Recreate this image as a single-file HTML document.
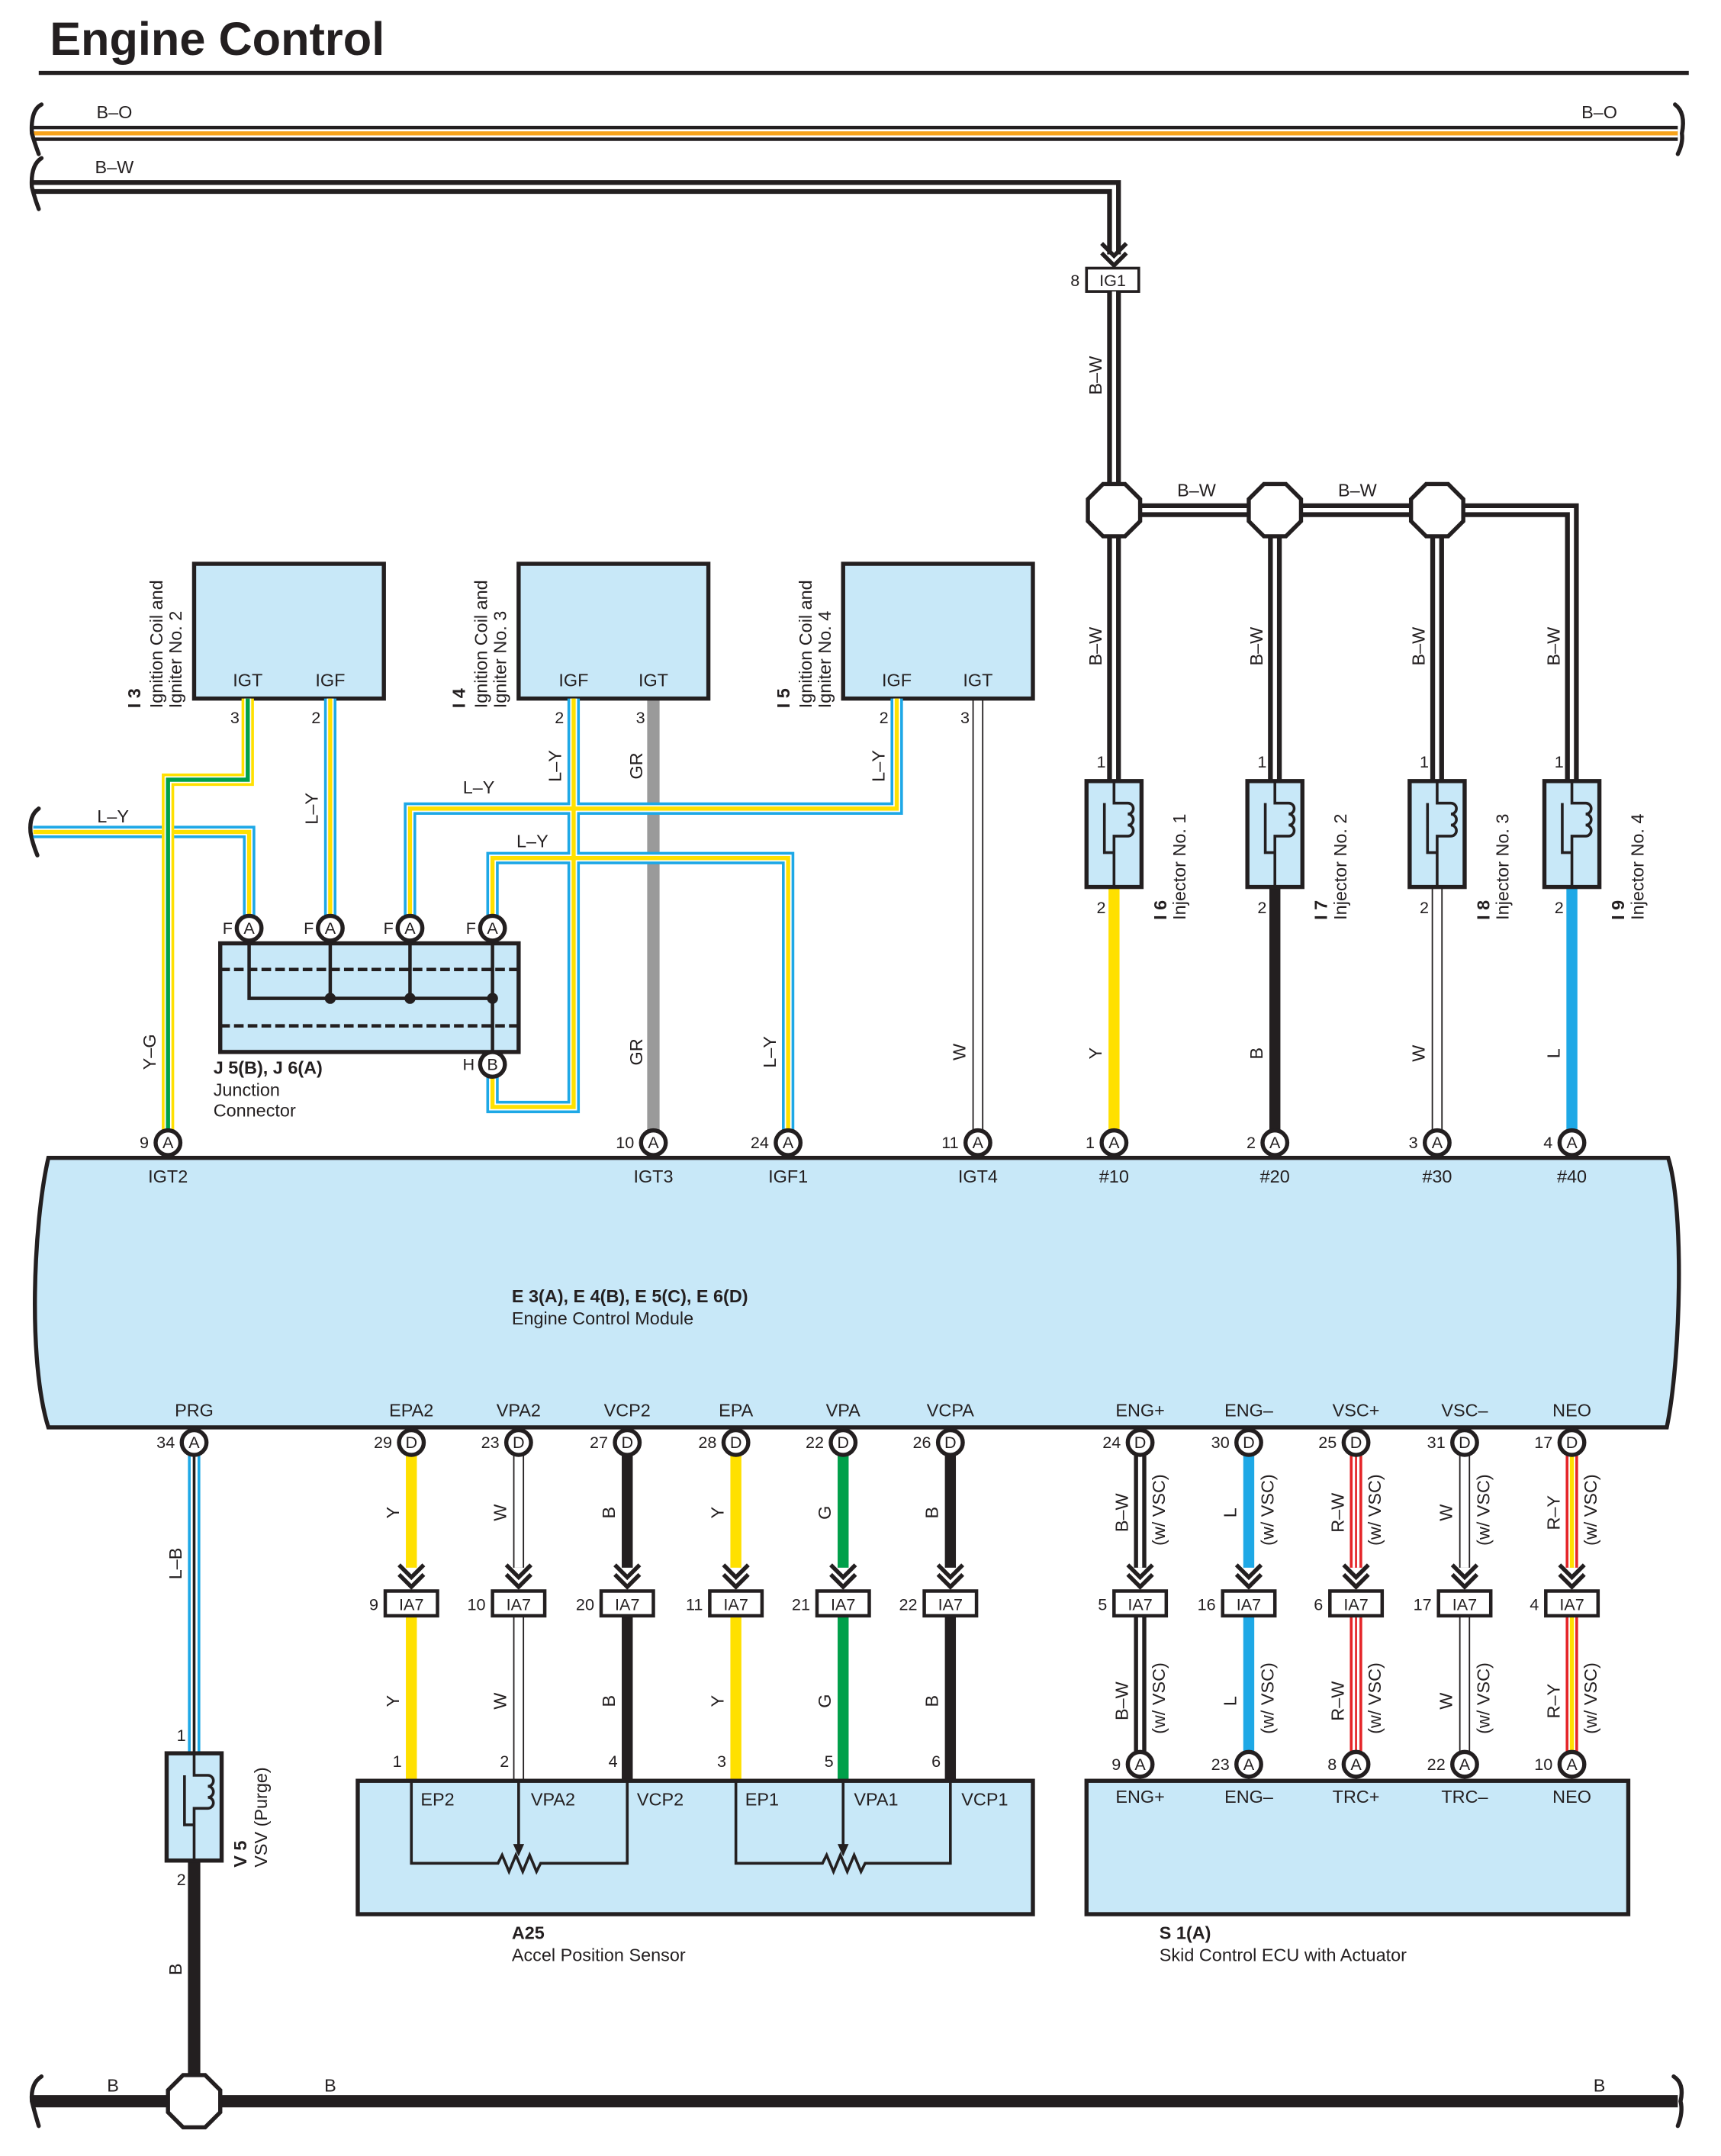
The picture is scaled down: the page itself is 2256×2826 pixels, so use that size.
<!DOCTYPE html>
<html><head><meta charset="utf-8"><style>html,body{margin:0;padding:0;background:#fff}svg{display:block}text{font-family:"Liberation Sans",sans-serif;fill:#231f20}</style></head><body>
<svg width="2256" height="2826" viewBox="0 0 1245 1560" xmlns="http://www.w3.org/2000/svg">
<defs>
<g id="chev"><polyline points="-9,-17 0,-8 9,-17" fill="none" stroke="#231f20" stroke-width="3"/><polyline points="-9,-10 0,-1 9,-10" fill="none" stroke="#231f20" stroke-width="3"/></g>
</defs>
<g transform="scale(0.995)">
<g fill="none" stroke-linejoin="miter">
<text x="36" y="40" font-size="34" font-weight="bold" stroke="none">Engine Control</text>
<line x1="28" y1="53" x2="1228" y2="53" stroke="#231f20" stroke-width="3"/>
<line x1="24" y1="97" x2="1220" y2="97" stroke="#231f20" stroke-width="11"/>
<line x1="24" y1="97" x2="1220" y2="97" stroke="#fff" stroke-width="6"/>
<line x1="24" y1="97" x2="1220" y2="97" stroke="#f7a21b" stroke-width="3"/>
<path d="M24 136 H810 V185" stroke="#231f20" stroke-width="10"/>
<path d="M24 136 H810 V185" stroke="#fff" stroke-width="3"/>
<g transform="translate(810,194)"><use href="#chev"/></g>
<g stroke="#231f20" stroke-width="3" stroke-linecap="round">
<path d="M30 76 Q22 80 23 97 Q25 104 28 112"/><path d="M30 115 Q22 120 23 136 Q25 144 28 152"/>
<path d="M1218 76 Q1226 82 1223 97 Q1224 104 1220 112"/>
<path d="M28 588 Q21 593 22 605 Q23 612 27 622"/>
<path d="M30 1510 Q22 1515 23 1528 Q25 1536 28 1546"/><path d="M1217 1510 Q1225 1515 1222 1528 Q1224 1536 1220 1546"/>
</g>
<rect x="790" y="195" width="38" height="17" fill="#fff" stroke="#231f20" stroke-width="2"/>
<path d="M810 212 V630 M810 371 H1143 V600 M927 371 V600 M1045 371 V600" stroke="#231f20" stroke-width="10"/>
<path d="M810 212 V630 M810 371 H1143 V600 M927 371 V600 M1045 371 V600" stroke="#fff" stroke-width="3"/>
<g fill="#fff" stroke="#231f20" stroke-width="3">
<polygon points="802,352 818,352 829,363 829,379 818,390 802,390 791,379 791,363"/>
<polygon points="919,352 935,352 946,363 946,379 935,390 919,390 908,379 908,363"/>
<polygon points="1037,352 1053,352 1064,363 1064,379 1053,390 1037,390 1026,379 1026,363"/>
</g>
<line x1="810" y1="645" x2="810" y2="822" stroke="#ffe000" stroke-width="8"/>
<line x1="927" y1="645" x2="927" y2="822" stroke="#231f20" stroke-width="8"/>
<line x1="1045" y1="645" x2="1045" y2="822" stroke="#231f20" stroke-width="8"/>
<line x1="1045" y1="645" x2="1045" y2="822" stroke="#fff" stroke-width="6"/>
<line x1="1143" y1="645" x2="1143" y2="822" stroke="#1ea8e6" stroke-width="8"/>
<line x1="711" y1="508" x2="711" y2="822" stroke="#231f20" stroke-width="8"/>
<line x1="711" y1="508" x2="711" y2="822" stroke="#fff" stroke-width="6"/>
<line x1="475" y1="508" x2="475" y2="822" stroke="#9a9a9a" stroke-width="9"/>
<g stroke="#231f20" stroke-width="3">
<rect x="790" y="568" width="40" height="77" fill="#c8e8f8"/>
<rect x="907" y="568" width="40" height="77" fill="#c8e8f8"/>
<rect x="1025" y="568" width="40" height="77" fill="#c8e8f8"/>
<rect x="1123" y="568" width="40" height="77" fill="#c8e8f8"/>
</g>
<g stroke="#231f20" stroke-width="2">
<path d="M810 568 V584 H820 a4 4 0 0 1 0 8 a4 4 0 0 1 0 8 a4 4 0 0 1 0 8 H810 V645 M803 584 V620 H810"/>
<path d="M927 568 V584 H937 a4 4 0 0 1 0 8 a4 4 0 0 1 0 8 a4 4 0 0 1 0 8 H927 V645 M920 584 V620 H927"/>
<path d="M1045 568 V584 H1055 a4 4 0 0 1 0 8 a4 4 0 0 1 0 8 a4 4 0 0 1 0 8 H1045 V645 M1038 584 V620 H1045"/>
<path d="M1143 568 V584 H1153 a4 4 0 0 1 0 8 a4 4 0 0 1 0 8 a4 4 0 0 1 0 8 H1143 V645 M1136 584 V620 H1143"/>
</g>
<g stroke="#231f20" stroke-width="3" fill="#c8e8f8">
<rect x="141" y="410" width="138" height="98"/>
<rect x="377" y="410" width="138" height="98"/>
<rect x="613" y="410" width="138" height="98"/>
<rect x="160" y="686" width="217" height="79"/>
</g>
<path d="M24 605 H181 V666 M240 508 V666 M652 508 V588 H298 V666 M358 666 V624 H573 V822 M417 508 V805 H358 V783" stroke="#1ea8e6" stroke-width="9"/>
<path d="M24 605 H181 V666 M240 508 V666 M652 508 V588 H298 V666 M358 666 V624 H573 V822 M417 508 V805 H358 V783" stroke="#fff" stroke-width="5"/>
<path d="M24 605 H181 V666 M240 508 V666 M652 508 V588 H298 V666 M358 666 V624 H573 V822 M417 508 V805 H358 V783" stroke="#ffe000" stroke-width="3"/>
<path d="M180 508 V567 H122 V822" stroke="#ffe000" stroke-width="9"/>
<path d="M180 508 V567 H122 V822" stroke="#fff" stroke-width="5"/>
<path d="M180 508 V567 H122 V822" stroke="#00a04a" stroke-width="3"/>
<g stroke="#231f20" stroke-width="2.5">
<line x1="160" y1="705" x2="377" y2="705" stroke-dasharray="7,3"/>
<line x1="160" y1="746" x2="377" y2="746" stroke-dasharray="7,3"/>
<path d="M181 675 V726 H358 M240 675 V726 M298 675 V726 M358 675 V774"/>
</g>
<g fill="#231f20"><circle cx="240" cy="726" r="4"/><circle cx="298" cy="726" r="4"/><circle cx="358" cy="726" r="4"/></g>
<path d="M35 842 H1213 C1225 880 1222 990 1212 1038 H35 C20 990 24 890 35 842 Z" fill="#c8e8f8" stroke="#231f20" stroke-width="3"/>
<g stroke-width="8">
<path d="M299 1058 V1140 M299 1175 V1295 M535 1058 V1140 M535 1175 V1295" stroke="#ffe000"/>
<path d="M456 1058 V1140 M456 1175 V1295 M691 1058 V1140 M691 1175 V1295" stroke="#231f20"/>
<path d="M613 1058 V1140 M613 1175 V1295" stroke="#00a04a"/>
<path d="M377 1058 V1140 M377 1175 V1295 M1065 1058 V1140 M1065 1175 V1275" stroke="#231f20"/>
<path d="M377 1058 V1140 M377 1175 V1295 M1065 1058 V1140 M1065 1175 V1275" stroke="#fff" stroke-width="6"/>
<path d="M908 1058 V1140 M908 1175 V1275" stroke="#1ea8e6"/>
<path d="M829 1058 V1140 M829 1175 V1275" stroke="#231f20" stroke-width="9"/>
<path d="M829 1058 V1140 M829 1175 V1275" stroke="#fff" stroke-width="3"/>
<path d="M986 1058 V1140 M986 1175 V1275 M1143 1058 V1140 M1143 1175 V1275" stroke="#e52528" stroke-width="9"/>
<path d="M986 1058 V1140 M986 1175 V1275 M1143 1058 V1140 M1143 1175 V1275" stroke="#fff" stroke-width="5"/>
<path d="M1143 1058 V1140 M1143 1175 V1275" stroke="#ffe000" stroke-width="3"/>
<path d="M986 1058 V1140 M986 1175 V1275" stroke="#e52528" stroke-width="1.5"/>
<path d="M141 1058 V1275" stroke="#1ea8e6" stroke-width="9"/>
<path d="M141 1058 V1275" stroke="#fff" stroke-width="5"/>
<path d="M141 1058 V1275" stroke="#231f20" stroke-width="2"/>
<path d="M141 1353 V1528" stroke="#231f20" stroke-width="9"/>
</g>
<rect x="121" y="1275" width="40" height="78" fill="#c8e8f8" stroke="#231f20" stroke-width="3"/>
<path d="M141 1275 V1291 H151 a4 4 0 0 1 0 8 a4 4 0 0 1 0 8 a4 4 0 0 1 0 8 H141 V1353 M134 1291 V1327 H141" stroke="#231f20" stroke-width="2"/>
<line x1="24" y1="1528" x2="1220" y2="1528" stroke="#231f20" stroke-width="9"/>
<polygon points="133,1509 149,1509 160,1520 160,1536 149,1547 133,1547 122,1536 122,1520" fill="#fff" stroke="#231f20" stroke-width="3"/>
<g>
<use href="#chev" x="299" y="1155"/><use href="#chev" x="377" y="1155"/><use href="#chev" x="456" y="1155"/><use href="#chev" x="535" y="1155"/><use href="#chev" x="613" y="1155"/><use href="#chev" x="691" y="1155"/>
<use href="#chev" x="829" y="1155"/><use href="#chev" x="908" y="1155"/><use href="#chev" x="986" y="1155"/><use href="#chev" x="1065" y="1155"/><use href="#chev" x="1143" y="1155"/>
</g>
<g fill="#fff" stroke="#231f20" stroke-width="2.5">
<rect x="280" y="1157" width="38" height="18"/><rect x="358" y="1157" width="38" height="18"/><rect x="437" y="1157" width="38" height="18"/><rect x="516" y="1157" width="38" height="18"/><rect x="594" y="1157" width="38" height="18"/><rect x="672" y="1157" width="38" height="18"/>
<rect x="810" y="1157" width="38" height="18"/><rect x="889" y="1157" width="38" height="18"/><rect x="967" y="1157" width="38" height="18"/><rect x="1046" y="1157" width="38" height="18"/><rect x="1124" y="1157" width="38" height="18"/>
</g>
<rect x="260" y="1295" width="491" height="97" fill="#c8e8f8" stroke="#231f20" stroke-width="3"/>
<rect x="790" y="1295" width="394" height="97" fill="#c8e8f8" stroke="#231f20" stroke-width="3"/>
<g stroke="#231f20" stroke-width="2">
<path d="M299 1295 V1355 H362 l3 -6 l5 12 l5 -12 l5 12 l5 -12 l5 12 l3 -6 H456 V1295 M377 1295 V1345"/>
<path d="M535 1295 V1355 H598 l3 -6 l5 12 l5 -12 l5 12 l5 -12 l5 12 l3 -6 H691 V1295 M613 1295 V1345"/>
</g>
<g fill="#231f20"><polygon points="373,1341 381,1341 377,1350"/><polygon points="609,1341 617,1341 613,1350"/></g>
<g fill="#fff" stroke="#231f20" stroke-width="3">
<circle cx="181" cy="675" r="9"/><circle cx="240" cy="675" r="9"/><circle cx="298" cy="675" r="9"/><circle cx="358" cy="675" r="9"/><circle cx="358" cy="774" r="9"/>
<circle cx="122" cy="831" r="9"/><circle cx="475" cy="831" r="9"/><circle cx="573" cy="831" r="9"/><circle cx="711" cy="831" r="9"/><circle cx="810" cy="831" r="9"/><circle cx="927" cy="831" r="9"/><circle cx="1045" cy="831" r="9"/><circle cx="1143" cy="831" r="9"/>
<circle cx="141" cy="1049" r="9"/><circle cx="299" cy="1049" r="9"/><circle cx="377" cy="1049" r="9"/><circle cx="456" cy="1049" r="9"/><circle cx="535" cy="1049" r="9"/><circle cx="613" cy="1049" r="9"/><circle cx="691" cy="1049" r="9"/>
<circle cx="829" cy="1049" r="9"/><circle cx="908" cy="1049" r="9"/><circle cx="986" cy="1049" r="9"/><circle cx="1065" cy="1049" r="9"/><circle cx="1143" cy="1049" r="9"/>
<circle cx="829" cy="1283" r="9"/><circle cx="908" cy="1283" r="9"/><circle cx="986" cy="1283" r="9"/><circle cx="1065" cy="1283" r="9"/><circle cx="1143" cy="1283" r="9"/>
</g>
</g>
<g font-size="13" text-anchor="middle">
<g font-size="12">
<text x="181" y="679">A</text><text x="240" y="679">A</text><text x="298" y="679">A</text><text x="358" y="679">A</text><text x="358" y="778">B</text>
<text x="122" y="835">A</text><text x="475" y="835">A</text><text x="573" y="835">A</text><text x="711" y="835">A</text><text x="810" y="835">A</text><text x="927" y="835">A</text><text x="1045" y="835">A</text><text x="1143" y="835">A</text>
<text x="141" y="1053">A</text><text x="299" y="1053">D</text><text x="377" y="1053">D</text><text x="456" y="1053">D</text><text x="535" y="1053">D</text><text x="613" y="1053">D</text><text x="691" y="1053">D</text>
<text x="829" y="1053">D</text><text x="908" y="1053">D</text><text x="986" y="1053">D</text><text x="1065" y="1053">D</text><text x="1143" y="1053">D</text>
<text x="829" y="1287">A</text><text x="908" y="1287">A</text><text x="986" y="1287">A</text><text x="1065" y="1287">A</text><text x="1143" y="1287">A</text>
<text x="809" y="208">IG1</text>
<text x="299" y="1171">IA7</text><text x="377" y="1171">IA7</text><text x="456" y="1171">IA7</text><text x="535" y="1171">IA7</text><text x="613" y="1171">IA7</text><text x="691" y="1171">IA7</text>
<text x="829" y="1171">IA7</text><text x="908" y="1171">IA7</text><text x="986" y="1171">IA7</text><text x="1065" y="1171">IA7</text><text x="1143" y="1171">IA7</text>
</g>
<g text-anchor="end" font-size="12">
<text x="785" y="208">8</text>
<text x="169" y="679">F</text><text x="228" y="679">F</text><text x="286" y="679">F</text><text x="346" y="679">F</text><text x="345" y="778">H</text>
<text x="108" y="835">9</text><text x="461" y="835">10</text><text x="559" y="835">24</text><text x="697" y="835">11</text><text x="796" y="835">1</text><text x="913" y="835">2</text><text x="1031" y="835">3</text><text x="1129" y="835">4</text>
<text x="127" y="1053">34</text><text x="285" y="1053">29</text><text x="363" y="1053">23</text><text x="442" y="1053">27</text><text x="521" y="1053">28</text><text x="599" y="1053">22</text><text x="677" y="1053">26</text>
<text x="815" y="1053">24</text><text x="894" y="1053">30</text><text x="972" y="1053">25</text><text x="1051" y="1053">31</text><text x="1129" y="1053">17</text>
<text x="275" y="1171">9</text><text x="353" y="1171">10</text><text x="432" y="1171">20</text><text x="511" y="1171">11</text><text x="589" y="1171">21</text><text x="667" y="1171">22</text>
<text x="805" y="1171">5</text><text x="884" y="1171">16</text><text x="962" y="1171">6</text><text x="1041" y="1171">17</text><text x="1119" y="1171">4</text>
<text x="815" y="1287">9</text><text x="894" y="1287">23</text><text x="972" y="1287">8</text><text x="1051" y="1287">22</text><text x="1129" y="1287">10</text>
<text x="292" y="1285">1</text><text x="370" y="1285">2</text><text x="449" y="1285">4</text><text x="528" y="1285">3</text><text x="606" y="1285">5</text><text x="684" y="1285">6</text>
<text x="174" y="526">3</text><text x="233" y="526">2</text><text x="410" y="526">2</text><text x="469" y="526">3</text><text x="646" y="526">2</text><text x="705" y="526">3</text>
<text x="804" y="558">1</text><text x="921" y="558">1</text><text x="1039" y="558">1</text><text x="1137" y="558">1</text>
<text x="804" y="664">2</text><text x="921" y="664">2</text><text x="1039" y="664">2</text><text x="1137" y="664">2</text>
<text x="135" y="1266">1</text><text x="135" y="1371">2</text>
</g>
<text x="83" y="86">B–O</text><text x="1163" y="86">B–O</text><text x="83" y="126">B–W</text>
<text x="870" y="361">B–W</text><text x="987" y="361">B–W</text>
<text x="82" y="598">L–Y</text><text x="348" y="577">L–Y</text><text x="387" y="616">L–Y</text>
<text x="82" y="1521">B</text><text x="240" y="1521">B</text><text x="1163" y="1521">B</text>
<text x="180" y="499">IGT</text><text x="240" y="499">IGF</text><text x="417" y="499">IGF</text><text x="475" y="499">IGT</text><text x="652" y="499">IGF</text><text x="711" y="499">IGT</text>
<text x="122" y="860">IGT2</text><text x="475" y="860">IGT3</text><text x="573" y="860">IGF1</text><text x="711" y="860">IGT4</text><text x="810" y="860">#10</text><text x="927" y="860">#20</text><text x="1045" y="860">#30</text><text x="1143" y="860">#40</text>
<text x="141" y="1030">PRG</text><text x="299" y="1030">EPA2</text><text x="377" y="1030">VPA2</text><text x="456" y="1030">VCP2</text><text x="535" y="1030">EPA</text><text x="613" y="1030">VPA</text><text x="691" y="1030">VCPA</text>
<text x="829" y="1030">ENG+</text><text x="908" y="1030">ENG–</text><text x="986" y="1030">VSC+</text><text x="1065" y="1030">VSC–</text><text x="1143" y="1030">NEO</text>
<text x="318" y="1313">EP2</text><text x="402" y="1313">VPA2</text><text x="480" y="1313">VCP2</text><text x="554" y="1313">EP1</text><text x="637" y="1313">VPA1</text><text x="716" y="1313">VCP1</text>
<text x="829" y="1311">ENG+</text><text x="908" y="1311">ENG–</text><text x="986" y="1311">TRC+</text><text x="1065" y="1311">TRC–</text><text x="1143" y="1311">NEO</text>
</g>
<g font-size="13">
<text x="155" y="781" font-weight="bold">J 5(B), J 6(A)</text><text x="155" y="797">Junction</text><text x="155" y="812">Connector</text>
<text x="372" y="947" font-weight="bold">E 3(A), E 4(B), E 5(C), E 6(D)</text><text x="372" y="963">Engine Control Module</text>
<text x="372" y="1410" font-weight="bold">A25</text><text x="372" y="1426">Accel Position Sensor</text>
<text x="843" y="1410" font-weight="bold">S 1(A)</text><text x="843" y="1426">Skid Control ECU with Actuator</text>
</g>
<g font-size="13" text-anchor="middle">
<text transform="translate(801,273) rotate(-90)">B–W</text>
<text transform="translate(801,470) rotate(-90)">B–W</text><text transform="translate(918,470) rotate(-90)">B–W</text><text transform="translate(1036,470) rotate(-90)">B–W</text><text transform="translate(1134,470) rotate(-90)">B–W</text>
<text transform="translate(801,766) rotate(-90)">Y</text><text transform="translate(918,766) rotate(-90)">B</text><text transform="translate(1036,766) rotate(-90)">W</text><text transform="translate(1134,766) rotate(-90)">L</text>
<text transform="translate(231,588) rotate(-90)">L–Y</text><text transform="translate(408,557) rotate(-90)">L–Y</text><text transform="translate(467,557) rotate(-90)">GR</text><text transform="translate(643,557) rotate(-90)">L–Y</text>
<text transform="translate(113,765) rotate(-90)">Y–G</text><text transform="translate(467,765) rotate(-90)">GR</text><text transform="translate(564,765) rotate(-90)">L–Y</text><text transform="translate(702,765) rotate(-90)">W</text>
<text transform="translate(132,1137) rotate(-90)">L–B</text><text transform="translate(132,1432) rotate(-90)">B</text>
<text transform="translate(290,1100) rotate(-90)">Y</text><text transform="translate(368,1100) rotate(-90)">W</text><text transform="translate(447,1100) rotate(-90)">B</text><text transform="translate(526,1100) rotate(-90)">Y</text><text transform="translate(604,1100) rotate(-90)">G</text><text transform="translate(682,1100) rotate(-90)">B</text>
<text transform="translate(290,1237) rotate(-90)">Y</text><text transform="translate(368,1237) rotate(-90)">W</text><text transform="translate(447,1237) rotate(-90)">B</text><text transform="translate(526,1237) rotate(-90)">Y</text><text transform="translate(604,1237) rotate(-90)">G</text><text transform="translate(682,1237) rotate(-90)">B</text>
<text transform="translate(820,1100) rotate(-90)">B–W</text><text transform="translate(899,1100) rotate(-90)">L</text><text transform="translate(977,1100) rotate(-90)">R–W</text><text transform="translate(1056,1100) rotate(-90)">W</text><text transform="translate(1134,1100) rotate(-90)">R–Y</text>
<text transform="translate(820,1237) rotate(-90)">B–W</text><text transform="translate(899,1237) rotate(-90)">L</text><text transform="translate(977,1237) rotate(-90)">R–W</text><text transform="translate(1056,1237) rotate(-90)">W</text><text transform="translate(1134,1237) rotate(-90)">R–Y</text>
<text transform="translate(847,1098) rotate(-90)">(w/ VSC)</text><text transform="translate(926,1098) rotate(-90)">(w/ VSC)</text><text transform="translate(1004,1098) rotate(-90)">(w/ VSC)</text><text transform="translate(1083,1098) rotate(-90)">(w/ VSC)</text><text transform="translate(1161,1098) rotate(-90)">(w/ VSC)</text>
<text transform="translate(847,1235) rotate(-90)">(w/ VSC)</text><text transform="translate(926,1235) rotate(-90)">(w/ VSC)</text><text transform="translate(1004,1235) rotate(-90)">(w/ VSC)</text><text transform="translate(1083,1235) rotate(-90)">(w/ VSC)</text><text transform="translate(1161,1235) rotate(-90)">(w/ VSC)</text>
</g>
<g font-size="13">
<text transform="translate(102,515) rotate(-90)" font-weight="bold">I 3</text><text transform="translate(118,515) rotate(-90)">Ignition Coil and</text><text transform="translate(132,515) rotate(-90)">Igniter No. 2</text>
<text transform="translate(338,515) rotate(-90)" font-weight="bold">I 4</text><text transform="translate(354,515) rotate(-90)">Ignition Coil and</text><text transform="translate(368,515) rotate(-90)">Igniter No. 3</text>
<text transform="translate(574,515) rotate(-90)" font-weight="bold">I 5</text><text transform="translate(590,515) rotate(-90)">Ignition Coil and</text><text transform="translate(604,515) rotate(-90)">Igniter No. 4</text>
<text transform="translate(848,669) rotate(-90)" font-weight="bold">I 6</text><text transform="translate(862,669) rotate(-90)">Injector No. 1</text>
<text transform="translate(965,669) rotate(-90)" font-weight="bold">I 7</text><text transform="translate(979,669) rotate(-90)">Injector No. 2</text>
<text transform="translate(1083,669) rotate(-90)" font-weight="bold">I 8</text><text transform="translate(1097,669) rotate(-90)">Injector No. 3</text>
<text transform="translate(1181,669) rotate(-90)" font-weight="bold">I 9</text><text transform="translate(1195,669) rotate(-90)">Injector No. 4</text>
<text transform="translate(179,1358) rotate(-90)" font-weight="bold">V 5</text><text transform="translate(194,1358) rotate(-90)">VSV (Purge)</text>
</g>
</g>
</svg>
</body></html>
